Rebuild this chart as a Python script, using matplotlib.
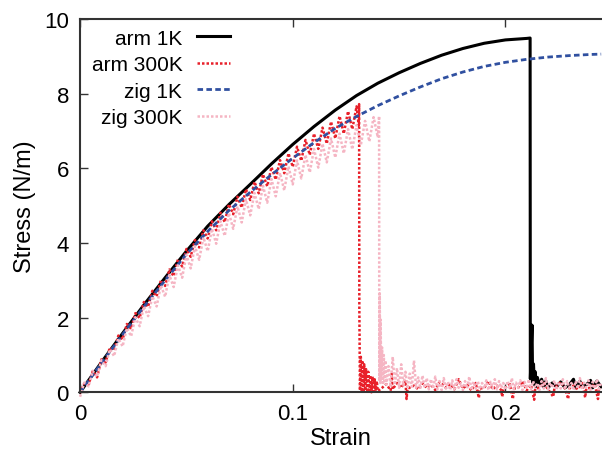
import matplotlib
matplotlib.use('Agg')
import matplotlib.pyplot as plt
import numpy as np

plt.rcParams['font.family'] = ['Liberation Sans', 'DejaVu Sans']

# (strain, stress) pairs
arm_1k = [
    (0.000, 0.00), (0.010, 0.80), (0.020, 1.58), (0.030, 2.34), (0.040, 3.07),
    (0.050, 3.78), (0.060, 4.45), (0.070, 5.03), (0.080, 5.57), (0.090, 6.12),
    (0.100, 6.64), (0.110, 7.12), (0.120, 7.56), (0.130, 7.95), (0.140, 8.28),
    (0.150, 8.56), (0.160, 8.81), (0.170, 9.03), (0.180, 9.21), (0.190, 9.35),
    (0.200, 9.44), (0.210, 9.48), (0.2116, 9.49),
    (0.2117, 0.36), (0.2125, 1.80), (0.2128, 0.25), (0.2132, 0.76), (0.2136, 0.20),
    (0.2140, 0.55), (0.2145, 0.15), (0.2150, 0.40), (0.2160, 0.18), (0.2170, 0.35),
    (0.2180, 0.15), (0.2190, 0.30), (0.2200, 0.12), (0.2220, 0.25), (0.2240, 0.15),
    (0.2260, 0.28), (0.2280, 0.12), (0.2300, 0.20), (0.2320, 0.35), (0.2330, 0.12),
    (0.2350, 0.30), (0.2360, 0.15), (0.2380, 0.20), (0.2400, 0.32), (0.2410, 0.12),
    (0.2430, 0.30), (0.2450, 0.15),
]

arm_300k = [
    (0.000, -0.02), (0.002, 0.24), (0.004, 0.21), (0.006, 0.57), (0.008, 0.40),
    (0.010, 0.88), (0.012, 0.80), (0.014, 1.20), (0.016, 1.13), (0.018, 1.52),
    (0.020, 1.42), (0.022, 1.83), (0.024, 1.70), (0.026, 2.12), (0.028, 1.99),
    (0.030, 2.42), (0.032, 2.29), (0.034, 2.72), (0.036, 2.57), (0.038, 3.00),
    (0.040, 2.85), (0.042, 3.29), (0.044, 3.11), (0.046, 3.56), (0.048, 3.37),
    (0.050, 3.84), (0.052, 3.63), (0.054, 4.08), (0.056, 3.88), (0.058, 4.34),
    (0.060, 4.12), (0.062, 4.58), (0.064, 4.34), (0.066, 4.81), (0.068, 4.56),
    (0.070, 5.04), (0.072, 4.77), (0.074, 5.24), (0.076, 4.95), (0.078, 5.44),
    (0.080, 5.15), (0.082, 5.64), (0.084, 5.33), (0.086, 5.84), (0.088, 5.52),
    (0.090, 6.03), (0.092, 5.70), (0.094, 6.22), (0.096, 5.87), (0.098, 6.40),
    (0.100, 6.04), (0.102, 6.58), (0.104, 6.20), (0.106, 6.76), (0.108, 6.36),
    (0.110, 6.93), (0.112, 6.52), (0.114, 7.09), (0.116, 6.66), (0.118, 7.25),
    (0.120, 6.80), (0.122, 7.40), (0.124, 6.93), (0.126, 7.53), (0.128, 7.05),
    (0.130, 7.66), (0.1310, 7.15), (0.1312, 7.72),
    (0.1313, 2.30), (0.1316, 0.05), (0.1320, 0.95), (0.1324, 0.02), (0.1328, 0.85),
    (0.1332, 0.00), (0.1336, 0.75), (0.1340, 0.05), (0.1345, 0.62), (0.1350, 0.00),
    (0.1355, 0.55), (0.1360, 0.05), (0.1365, 0.45), (0.1370, 0.00), (0.1375, 0.42),
    (0.1380, 0.02), (0.1385, 0.35), (0.1390, 0.05), (0.1395, 0.30), (0.1400, 0.03),
    (0.142, 0.12), (0.144, 0.22), (0.146, 0.05), (0.1465, 0.52), (0.147, 0.08),
    (0.149, 0.25), (0.151, 0.12), (0.153, 0.30), (0.1535, -0.18), (0.154, 0.10),
    (0.157, 0.18), (0.159, 0.08), (0.161, 0.24), (0.163, 0.12), (0.165, 0.20),
    (0.167, 0.06), (0.169, 0.28), (0.172, 0.12), (0.174, 0.22), (0.176, 0.08),
    (0.178, 0.35), (0.180, 0.10), (0.182, 0.20), (0.184, 0.05), (0.186, 0.25),
    (0.1875, -0.15), (0.188, 0.10), (0.190, 0.12), (0.192, 0.30), (0.194, 0.08),
    (0.196, 0.18), (0.198, 0.06), (0.1985, -0.12), (0.199, 0.08), (0.202, 0.22),
    (0.2035, -0.18), (0.204, 0.10), (0.206, 0.12), (0.208, 0.30), (0.210, 0.05),
    (0.212, 0.20), (0.2135, -0.20), (0.214, 0.10), (0.216, 0.12), (0.218, 0.25),
    (0.220, 0.08), (0.2225, -0.12), (0.223, 0.10), (0.226, 0.28), (0.228, 0.10),
    (0.2295, -0.18), (0.230, 0.10), (0.232, 0.18), (0.234, 0.08), (0.236, 0.25),
    (0.2375, -0.14), (0.238, 0.10), (0.240, 0.12), (0.242, 0.22), (0.2435, -0.18),
    (0.244, 0.10), (0.245, 0.10),
]

zig_1k = [
    (0.000, 0.00), (0.010, 0.78), (0.020, 1.55), (0.030, 2.29), (0.040, 3.00),
    (0.050, 3.70), (0.060, 4.31), (0.070, 4.87), (0.080, 5.36), (0.090, 5.83),
    (0.100, 6.27), (0.110, 6.69), (0.120, 7.07), (0.130, 7.39), (0.140, 7.68),
    (0.150, 7.94), (0.160, 8.18), (0.170, 8.40), (0.180, 8.58), (0.190, 8.73),
    (0.200, 8.84), (0.210, 8.92), (0.220, 8.98), (0.230, 9.02), (0.240, 9.05),
    (0.245, 9.06),
]

zig_300k = [
    (0.000, -0.12), (0.002, 0.26), (0.004, 0.16), (0.006, 0.57), (0.008, 0.42),
    (0.010, 0.86), (0.012, 0.70), (0.014, 1.15), (0.016, 0.97), (0.018, 1.44),
    (0.020, 1.23), (0.022, 1.72), (0.024, 1.50), (0.026, 2.01), (0.028, 1.77),
    (0.030, 2.30), (0.032, 2.04), (0.034, 2.57), (0.036, 2.30), (0.038, 2.86),
    (0.040, 2.56), (0.042, 3.14), (0.044, 2.82), (0.046, 3.40), (0.048, 3.07),
    (0.050, 3.68), (0.052, 3.32), (0.054, 3.91), (0.056, 3.55), (0.058, 4.15),
    (0.060, 3.78), (0.062, 4.38), (0.064, 3.98), (0.066, 4.58), (0.068, 4.19),
    (0.070, 4.80), (0.072, 4.38), (0.074, 4.98), (0.076, 4.55), (0.078, 5.17),
    (0.080, 4.74), (0.082, 5.34), (0.084, 4.91), (0.086, 5.53), (0.088, 5.08),
    (0.090, 5.71), (0.092, 5.25), (0.094, 5.88), (0.096, 5.41), (0.098, 6.05),
    (0.100, 5.57), (0.102, 6.21), (0.104, 5.73), (0.106, 6.36), (0.108, 5.89),
    (0.110, 6.52), (0.112, 6.02), (0.114, 6.66), (0.116, 6.16), (0.118, 6.80),
    (0.120, 6.29), (0.122, 6.93), (0.124, 6.40), (0.126, 7.05), (0.128, 6.51),
    (0.130, 7.16), (0.132, 6.62), (0.134, 7.27), (0.136, 6.72), (0.138, 7.37),
    (0.140, 6.83), (0.1406, 7.40),
    (0.1407, 0.30), (0.1409, 2.65), (0.1411, 0.25), (0.1413, 1.95), (0.1416, 0.35),
    (0.1420, 1.20), (0.1424, 0.20), (0.1428, 1.00), (0.1432, 0.30), (0.1436, 0.85),
    (0.144, 0.20), (0.145, 0.70), (0.146, 0.15), (0.147, 0.95), (0.148, 0.20),
    (0.149, 0.65), (0.150, 0.12), (0.151, 0.75), (0.152, 0.18), (0.153, 0.55),
    (0.154, 0.10), (0.155, 0.50), (0.156, 0.15), (0.157, 0.85), (0.158, 0.12),
    (0.159, 0.40), (0.160, 0.10), (0.161, 0.45), (0.162, 0.12), (0.163, 0.38),
    (0.164, 0.08), (0.165, 0.35), (0.166, 0.10), (0.167, 0.42), (0.168, 0.08),
    (0.169, 0.30), (0.170, 0.06), (0.171, 0.38), (0.172, 0.10), (0.173, 0.28),
    (0.174, 0.06), (0.175, 0.32), (0.176, 0.08), (0.177, 0.35), (0.178, 0.12),
    (0.179, 0.25), (0.180, 0.06), (0.181, 0.30), (0.182, 0.10), (0.183, 0.42),
    (0.184, 0.06), (0.185, 0.28), (0.186, 0.10), (0.187, 0.30), (0.188, 0.08),
    (0.189, 0.25), (0.190, 0.10), (0.191, 0.32), (0.192, 0.06), (0.193, 0.28),
    (0.194, 0.10), (0.195, 0.35), (0.196, 0.08), (0.197, 0.30), (0.198, 0.12),
    (0.199, 0.25), (0.200, 0.06), (0.201, 0.30), (0.202, 0.10), (0.203, 0.38),
    (0.204, 0.08), (0.205, 0.26), (0.206, 0.12), (0.207, 0.32), (0.208, 0.06),
    (0.209, 0.28), (0.210, 0.10), (0.211, 0.35), (0.212, 0.08), (0.213, 0.30),
    (0.214, 0.12), (0.215, 0.25), (0.216, 0.06), (0.217, 0.30), (0.218, 0.10),
    (0.219, 0.38), (0.220, 0.08), (0.221, 0.26), (0.222, 0.12), (0.223, 0.32),
    (0.224, 0.06), (0.225, 0.28), (0.226, 0.10), (0.227, 0.35), (0.228, 0.08),
    (0.229, 0.30), (0.230, 0.12), (0.231, 0.25), (0.232, 0.06), (0.233, 0.30),
    (0.234, 0.10), (0.235, 0.38), (0.236, 0.08), (0.237, 0.26), (0.238, 0.12),
    (0.239, 0.32), (0.240, 0.06), (0.241, 0.28), (0.242, 0.10), (0.243, 0.35),
    (0.244, 0.08), (0.245, 0.25),
]

series = [
    ('arm 1K', arm_1k, 'black', '-', 2.2),
    ('arm 300K', arm_300k, '#e8202a', (0, (1, 0.8)), 1.8),
    ('zig 1K', zig_1k, '#3050a0', (0, (2, 1.2)), 2.0),
    ('zig 300K', zig_300k, '#f5b5c3', (0, (1, 0.8)), 1.8),
]

fig = plt.figure(figsize=(6.02, 4.60), dpi=100)
ax = fig.add_axes([0.133, 0.145, 0.867, 0.8115])

for label, pts, color, ls, lw in series:
    pts = np.array(pts)
    ax.plot(pts[:, 0], pts[:, 1], color=color, linestyle=ls, linewidth=lw,
            label=label, clip_on=False)

ax.set_xlim(0, 0.2454)
ax.set_ylim(0, 10)
ax.set_xticks([0, 0.1, 0.2])
ax.set_xticklabels(['0', '0.1', '0.2'])
ax.set_yticks([0, 2, 4, 6, 8, 10])
ax.tick_params(direction='in', length=6, width=1, colors='#333333',
               labelcolor='black', labelsize=16, top=True, pad=8)
ax.spines['right'].set_visible(False)
for s in ['left', 'bottom', 'top']:
    ax.spines[s].set_color('#333333')
    ax.spines[s].set_linewidth(1.5)

ax.set_xlabel('Strain', fontsize=17, labelpad=2)
ax.set_ylabel('Stress (N/m)', fontsize=17, labelpad=6)

leg = ax.legend(loc='upper right', markerfirst=False, frameon=False,
                fontsize=15, handlelength=1.6, handletextpad=0.7,
                labelspacing=0.36, bbox_to_anchor=(0.288, 0.974),
                borderaxespad=0.0, borderpad=0.0)

fig.savefig('out.png', dpi=100)
